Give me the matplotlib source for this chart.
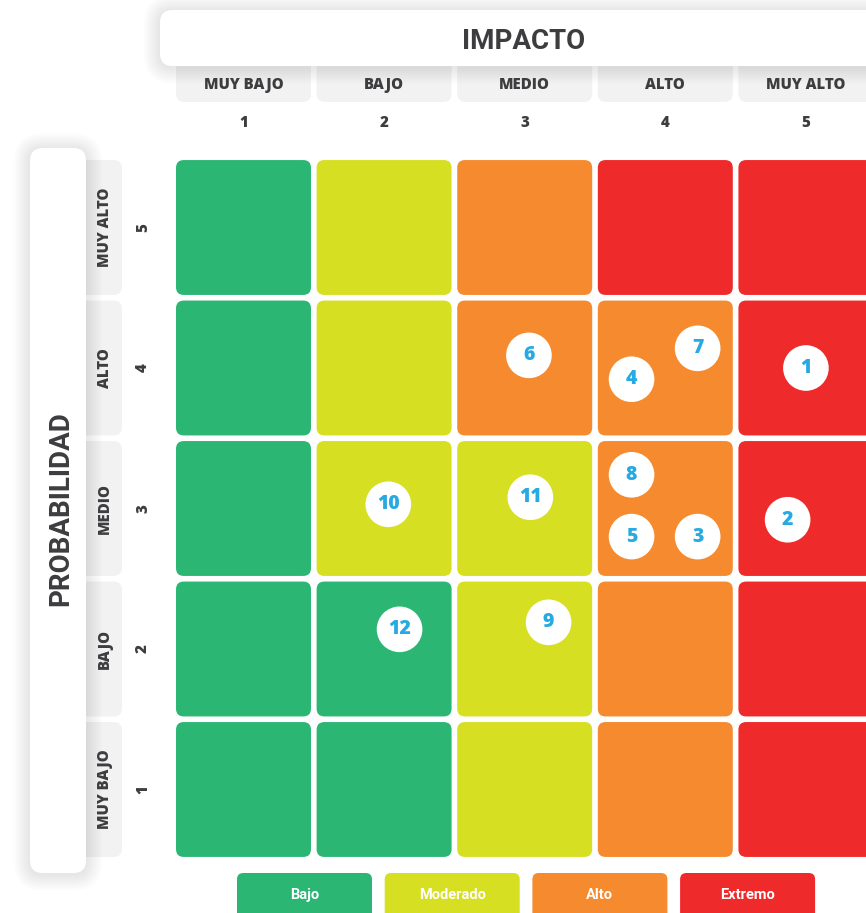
import matplotlib.pyplot as plt
from matplotlib.patches import FancyBboxPatch
import numpy as np

# ejes de la matriz
impact_labels = ["MUY BAJO", "BAJO", "MEDIO", "ALTO", "MUY ALTO"]
prob_labels = ["MUY BAJO", "BAJO", "MEDIO", "ALTO", "MUY ALTO"]
scale = [1, 2, 3, 4, 5]

levels = ["Bajo", "Moderado", "Alto", "Extremo"]
level_colors = ["#2bb673", "#d7df23", "#f58a2f", "#ee2a2b"]

# nivel de riesgo por celda: filas = probabilidad 1..5, columnas = impacto 1..5
risk_matrix = [
    [0, 0, 1, 2, 3],
    [0, 0, 1, 2, 3],
    [0, 1, 1, 2, 3],
    [0, 1, 2, 2, 3],
    [0, 1, 2, 3, 3],
]

# riesgos identificados (posicion dentro de la celda)
risk_ids = [1, 2, 3, 4, 5, 6, 7, 8, 9, 10, 11, 12]
risk_impact = [5.00, 4.87, 4.23, 3.76, 3.76, 3.03, 4.23, 3.76, 3.17, 2.03, 3.04, 2.11]
risk_prob = [4.00, 2.92, 2.80, 3.92, 2.80, 4.09, 4.14, 3.24, 2.19, 3.03, 3.08, 2.14]

dark = "#3d3d3f"
blue = "#27aae1"
label_font = "Open Sans"
title_font = "Roboto"


# pixel -> data helpers (layout only)
def X(px):
    return 1 + (px - 243.5) / 140.6


def Y(py):
    return 1 + (789.5 - py) / 140.5


def box(ax, x0, y0, x1, y1, color, r, z, shadow=False):
    if shadow:
        for k in range(1, 9):
            g = k * 2.0 / 140.6
            ax.add_patch(FancyBboxPatch((x0 - g, y0 - g - 0.01), (x1 - x0) + 2 * g, (y1 - y0) + 2 * g,
                                        boxstyle=f"round,pad=0,rounding_size={r + g}",
                                        fc="black", ec="none", alpha=0.012, zorder=z - 0.5))
    ax.add_patch(FancyBboxPatch((x0, y0), x1 - x0, y1 - y0,
                                boxstyle=f"round,pad=0,rounding_size={r}",
                                fc=color, ec="none", zorder=z))


fig = plt.figure(figsize=(8.66, 9.13), dpi=100)
ax = fig.add_axes([0, 0, 1, 1])
ax.set_xlim(X(0), X(866))
ax.set_ylim(Y(913), Y(0))
ax.axis("off")

# celdas de la matriz
cell = 0.96
for p in range(5):
    for i in range(5):
        lvl = risk_matrix[p][i]
        box(ax, scale[i] - cell / 2, scale[p] - cell / 2, scale[i] + cell / 2, scale[p] + cell / 2,
            level_colors[lvl], 0.055, 2)

# etiquetas de impacto (columnas)
for i, lab in enumerate(impact_labels):
    box(ax, scale[i] - cell / 2, Y(102), scale[i] + cell / 2, Y(58), "#f2f2f3", 0.06, 1)
    ax.text(scale[i], Y(85), lab, ha="center", va="center", fontsize=10.8,
            fontweight="heavy", color=dark, family=label_font, zorder=5)
    ax.text(scale[i], Y(123), str(scale[i]), ha="center", va="center", fontsize=10.8,
            fontweight="heavy", color=dark, family=label_font, zorder=5)

# etiquetas de probabilidad (filas)
for p, lab in enumerate(prob_labels):
    box(ax, X(78), scale[p] - cell / 2, X(122), scale[p] + cell / 2, "#f2f2f3", 0.06, 1)
    ax.text(X(105), scale[p], lab, ha="center", va="center", rotation=90, fontsize=10.8,
            fontweight="heavy", color=dark, family=label_font, zorder=5)
    ax.text(X(143), scale[p], str(scale[p]), ha="center", va="center", rotation=90, fontsize=10.8,
            fontweight="heavy", color=dark, family=label_font, zorder=5)

# titulos
box(ax, X(160), Y(66), X(920), Y(10), "white", 0.09, 4, shadow=True)
ax.text(X(524), Y(42), "IMPACTO", ha="center", va="center", fontsize=20,
        fontweight="bold", color=dark, family=title_font, zorder=6)

box(ax, X(30), Y(873), X(86), Y(148), "white", 0.09, 4, shadow=True)
ax.text(X(61), Y(509), "PROBABILIDAD", ha="center", va="center", rotation=90, fontsize=20,
        fontweight="bold", color=dark, family=title_font, zorder=6)

# riesgos
ax.scatter(risk_impact, risk_prob, s=1080, c="white", edgecolors="none", zorder=7)
for rid, xi, yi in zip(risk_ids, risk_impact, risk_prob):
    ax.text(xi, yi, str(rid), ha="center", va="center", fontsize=14,
            fontweight="heavy", color=blue, family=label_font, zorder=8)

# leyenda
leg_x = X(304.5) + np.arange(len(levels)) * (147.7 / 140.6)
leg_w = 135 / 140.6
for xc, name, col in zip(leg_x, levels, level_colors):
    box(ax, xc - leg_w / 2, Y(930), xc + leg_w / 2, Y(873), col, 0.045, 2)
    ax.text(xc, Y(895), name, ha="center", va="center", fontsize=10.5,
            fontweight="bold", color="white", family=title_font, zorder=5)

fig.savefig("out.png", dpi=100)
